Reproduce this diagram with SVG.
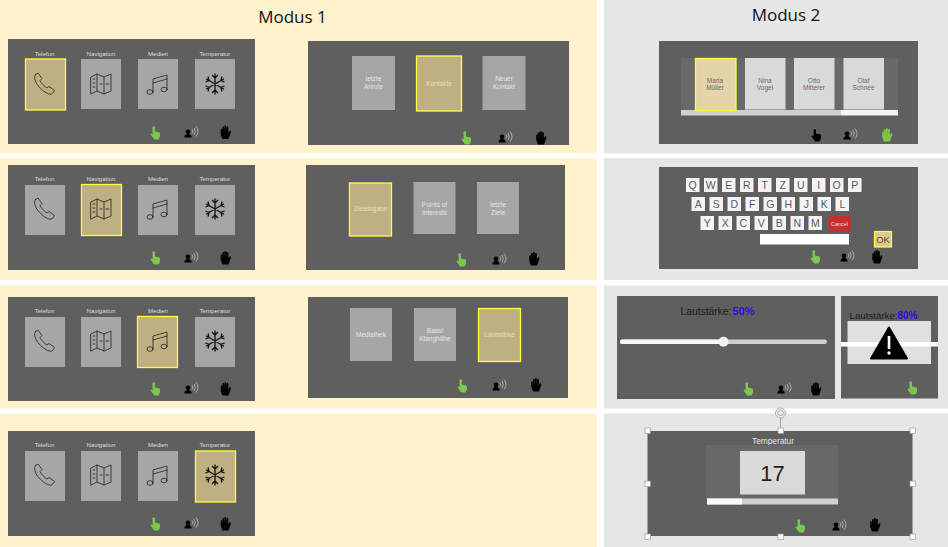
<svg xmlns="http://www.w3.org/2000/svg" width="948" height="547" viewBox="0 0 948 547">
<style>
text{font-family:"Liberation Sans",Arial,sans-serif;text-anchor:middle}
.panel{fill:#5f5f5f}
.tile{fill:#a6a6a6}
.sel{fill:#bfb084;stroke:#ffff3c;stroke-width:1.3}
.ltile{fill:#d9d9d9}
.lbl{font-size:6.100px;fill:#dedede}
.tl{font-size:6.500px;fill:#e6e6e6}
.sl{font-size:6.500px;fill:#e8dfb8}
.dl{font-size:6.500px;fill:#6a6a6a}
.key{fill:#f4f4f4}
.kt{font-size:10.500px;fill:#5a5a5a}
.title{font-family:"Open Sans","Noto Sans",sans-serif;font-size:17px;fill:#111}
.ic{fill:none;stroke:#222;stroke-width:.8;stroke-linejoin:round;stroke-linecap:round}
.handle{fill:#fff;stroke:#9a9a9a;stroke-width:.7}
.gr{fill:#7cc84c}
.bk{fill:#000}
</style>
<defs>
<symbol id="phone" overflow="visible"><path class="ic" d="M-9-9.500-6.500-11-2.500-5.500-4.500-3.500C-3-.5 0 2.500 2.500 4L4.500 2.500 10 6.500 8 9.500C6.500 11 3 10-1 7-5 4-8.500 0-9.500-4-10-6.500-10-8-9-9.500Z"/></symbol>
<symbol id="map" overflow="visible"><path class="ic" d="M-10-7-4-10 3-7 10-10V7L3 10-4 7-10 10ZM-4-10V7M3-7V10M-8-5H-6M-8-1H-6M-8 3H-6M-1 0H1M5 0H8"/></symbol>
<symbol id="music" overflow="visible"><path class="ic" d="M-5 8V-5L9-9V5M-5-1 9-5"/><ellipse class="ic" cx="-8" cy="8" rx="3" ry="2.300"/><ellipse class="ic" cx="6" cy="5.500" rx="3" ry="2.300"/></symbol>
<symbol id="snow" overflow="visible"><path d="M0-10.500V10.500M-9-5.200 9 5.200M-9 5.200 9-5.200M-3-9 0-6 3-9M-3 9 0 6 3 9M-9.500-2-6-3.500-7-7.500M9.500-2 6-3.500 7-7.500M-9.500 2-6 3.500-7 7.500M9.500 2 6 3.500 7 7.500" fill="none" stroke="#111" stroke-width="1.300"/></symbol>
<symbol id="touch" overflow="visible"><circle cx="-1.200" cy="-5.500" r="1.500" fill="#8a8a8a"/><path d="M-2.400-5a1.200 1.200 0 0 1 2.400 0V-1.500L3.500-.8A1.600 1.600 0 0 1 5 1V3.500L3.500 6.500H-.8L-4.500 1.500-3.500.3-2.400 1.500Z"/></symbol>
<symbol id="voice" overflow="visible"><circle cx="-3" cy="-1.300" r="2.300"/><path d="M-6.500 4.500V3L-4.500 1H-1.500L.5 3V4.500Z"/><path d="M1-3.500A3 3 0 0 1 1 .5M3-5A6 6 0 0 1 3 2M5-6.500A8 8 0 0 1 5 3.500" fill="none" stroke="#ddd" stroke-width=".6"/></symbol>
<symbol id="hand" overflow="visible"><path d="M-4.800-3A.8.800 0 0 1-3.200-3V-.5H-3V-5A.9.900 0 0 1-1.200-5V-1H-1V-6A.9.900 0 0 1 .8-6V-1H1V-5A.9.900 0 0 1 2.800-5V.5L4-1.500A.9.900 0 0 1 5.400-.5L3 6.500H-3L-4.800 2Z"/></symbol>
<symbol id="warn" overflow="visible"><path d="M0-15.500 18 15.500H-18Z" fill="#000" stroke="#000" stroke-width="2" stroke-linejoin="round"/><rect x="-1.300" y="-7" width="2.600" height="13" fill="#fff"/><circle cx="0" cy="10" r="1.700" fill="#fff"/></symbol>
</defs>

<g id="backgrounds">
<rect width="948" height="547" fill="#fff"/>
<rect x="0" y="0" width="597" height="153.500" fill="#fff2cc"/>
<rect x="0" y="158" width="597" height="122" fill="#fff2cc"/>
<rect x="0" y="285.500" width="597" height="123" fill="#fff2cc"/>
<rect x="0" y="413.500" width="597" height="133.500" fill="#fff2cc"/>
<rect x="604" y="0" width="344" height="153.500" fill="#e7e6e6"/>
<rect x="604" y="158" width="344" height="122" fill="#e7e6e6"/>
<rect x="604" y="285.500" width="344" height="123" fill="#e7e6e6"/>
<rect x="604" y="413.500" width="344" height="133.500" fill="#e7e6e6"/>
<text class="title" x="292.500" y="23">Modus 1</text>
<text class="title" x="786" y="21">Modus 2</text>
</g>

<g id="m1-main-telefon">
<rect class="panel" x="8" y="39" width="247" height="105"/>
<text class="lbl" x="44.500" y="55.500">Telefon</text><text class="lbl" x="101" y="55.500">Navigation</text><text class="lbl" x="158" y="55.500">Medien</text><text class="lbl" x="215" y="55.500">Temperatur</text>
<rect class="sel" x="25.500" y="59" width="40" height="51"/><rect class="tile" x="81" y="59" width="40" height="50"/><rect class="tile" x="138" y="59" width="40" height="50"/><rect class="tile" x="195" y="59" width="40" height="50"/>
<use href="#phone" x="44.500" y="84"/><use href="#map" x="101" y="84"/><use href="#music" x="158" y="84"/><use href="#snow" x="215" y="84"/>
<use href="#touch" x="155" y="133" class="gr"/><use href="#voice" x="191" y="133" class="bk"/><use href="#hand" x="225.500" y="132.500" class="bk"/>
</g>
<g id="m1-main-navigation">
<rect class="panel" x="8" y="165" width="247" height="105"/>
<text class="lbl" x="44.500" y="181">Telefon</text><text class="lbl" x="101" y="181">Navigation</text><text class="lbl" x="158" y="181">Medien</text><text class="lbl" x="215" y="181">Temperatur</text>
<rect class="tile" x="25" y="185" width="40" height="50"/><rect class="sel" x="81.500" y="184.500" width="40" height="51"/><rect class="tile" x="138" y="185" width="40" height="50"/><rect class="tile" x="195" y="185" width="40" height="50"/>
<use href="#phone" x="44.500" y="209"/><use href="#map" x="101" y="209"/><use href="#music" x="158" y="209"/><use href="#snow" x="215" y="209"/>
<use href="#touch" x="155" y="258" class="gr"/><use href="#voice" x="191" y="258" class="bk"/><use href="#hand" x="225.500" y="258" class="bk"/>
</g>
<g id="m1-main-medien">
<rect class="panel" x="8" y="297" width="247" height="104"/>
<text class="lbl" x="44.500" y="313">Telefon</text><text class="lbl" x="101" y="313">Navigation</text><text class="lbl" x="158" y="313">Medien</text><text class="lbl" x="215" y="313">Temperatur</text>
<rect class="tile" x="25" y="317" width="40" height="50"/><rect class="tile" x="81" y="317" width="40" height="50"/><rect class="sel" x="137.500" y="316.500" width="40" height="51"/><rect class="tile" x="195" y="317" width="40" height="50"/>
<use href="#phone" x="44.500" y="341"/><use href="#map" x="101" y="341"/><use href="#music" x="158" y="341"/><use href="#snow" x="215" y="341"/>
<use href="#touch" x="155" y="389" class="gr"/><use href="#voice" x="191" y="389" class="bk"/><use href="#hand" x="225.500" y="389" class="bk"/>
</g>
<g id="m1-main-temperatur">
<rect class="panel" x="8" y="431" width="247" height="105"/>
<text class="lbl" x="44.500" y="447">Telefon</text><text class="lbl" x="101" y="447">Navigation</text><text class="lbl" x="158" y="447">Medien</text><text class="lbl" x="215" y="447">Temperatur</text>
<rect class="tile" x="25" y="451" width="40" height="50"/><rect class="tile" x="81" y="451" width="40" height="50"/><rect class="tile" x="138" y="451" width="40" height="50"/><rect class="sel" x="195.500" y="451" width="40" height="51"/>
<use href="#phone" x="44.500" y="475"/><use href="#map" x="101" y="475"/><use href="#music" x="158" y="475"/><use href="#snow" x="215" y="475"/>
<use href="#touch" x="155" y="524" class="gr"/><use href="#voice" x="191" y="524" class="bk"/><use href="#hand" x="225.500" y="524" class="bk"/>
</g>

<g id="m1-sub-telefon">
<rect class="panel" x="308" y="41" width="261" height="104"/>
<rect class="tile" x="352" y="56" width="43" height="54"/><rect class="sel" x="416.500" y="56" width="45" height="55"/><rect class="tile" x="482.500" y="56" width="43" height="54"/>
<text class="tl" x="373.500" y="81">letzte</text><text class="tl" x="373.500" y="89">Anrufe</text>
<text class="sl" x="439" y="85.500">Kontakte</text>
<text class="tl" x="504" y="81">Neuer</text><text class="tl" x="504" y="89">Kontakt</text>
<use href="#touch" x="466" y="138" class="gr"/><use href="#voice" x="505" y="138" class="bk"/><use href="#hand" x="541" y="138" class="bk"/>
</g>
<g id="m1-sub-navigation">
<rect class="panel" x="306" y="165" width="259" height="105"/>
<rect class="sel" x="349.500" y="183" width="42" height="53"/><rect class="tile" x="413.500" y="182" width="42" height="52"/><rect class="tile" x="477" y="182" width="42" height="52"/>
<text class="sl" x="370.500" y="211">Zieleingabe</text>
<text class="tl" x="434.500" y="207">Points of</text><text class="tl" x="434.500" y="214.500">Interests</text>
<text class="tl" x="498" y="207">letzte</text><text class="tl" x="498" y="214.500">Ziele</text>
<use href="#touch" x="461" y="260" class="gr"/><use href="#voice" x="499" y="260" class="bk"/><use href="#hand" x="534" y="259" class="bk"/>
</g>
<g id="m1-sub-medien">
<rect class="panel" x="308" y="297" width="260" height="101"/>
<rect class="tile" x="350" y="308" width="42" height="53"/><rect class="tile" x="414" y="308" width="42" height="53"/><rect class="sel" x="478.500" y="308.500" width="42" height="53"/>
<text class="tl" x="371" y="337">Mediathek</text>
<text class="tl" x="435" y="333">Bass/</text><text class="tl" x="435" y="341">Klanghöhe</text>
<text class="sl" x="499.500" y="337">Lautstärke</text>
<use href="#touch" x="462" y="386" class="gr"/><use href="#voice" x="499" y="386" class="bk"/><use href="#hand" x="536" y="385" class="bk"/>
</g>

<g id="m2-kontakte">
<rect class="panel" x="659" y="41" width="259" height="103"/>
<rect x="681" y="58" width="217" height="53" fill="#696969"/>
<rect x="681" y="110" width="160" height="5.500" fill="#cfcfcf"/><rect x="841" y="110" width="57" height="5.500" fill="#f4f4f4"/>
<rect x="695.500" y="58.500" width="40.500" height="52" fill="#e3d5a8" stroke="#ffff3c" stroke-width="1.300"/><rect class="ltile" x="745" y="58" width="40.500" height="51.500"/><rect class="ltile" x="794" y="58" width="40.500" height="51.500"/><rect class="ltile" x="843.500" y="58" width="40.500" height="51.500"/>
<text class="dl" x="715" y="83">Maria</text><text class="dl" x="715" y="90">Müller</text>
<text class="dl" x="765" y="83">Nina</text><text class="dl" x="765" y="90">Vogel</text>
<text class="dl" x="814" y="83">Otto</text><text class="dl" x="814" y="90">Mitterer</text>
<text class="dl" x="863.500" y="83">Olaf</text><text class="dl" x="863.500" y="90">Schnee</text>
<use href="#touch" x="816" y="135" class="bk"/><use href="#voice" x="850" y="135" class="bk"/><use href="#hand" x="887" y="135" class="gr"/>
</g>
<g id="m2-keyboard">
<rect class="panel" x="659" y="167" width="259" height="102"/>
<g id="keys">
<rect class="key" x="686" y="178" width="13.500" height="14"/><rect class="key" x="704" y="178" width="13.500" height="14"/><rect class="key" x="722" y="178" width="13.500" height="14"/><rect class="key" x="740" y="178" width="13.500" height="14"/><rect class="key" x="758" y="178" width="13.500" height="14"/><rect class="key" x="776" y="178" width="13.500" height="14"/><rect class="key" x="794" y="178" width="13.500" height="14"/><rect class="key" x="812" y="178" width="13.500" height="14"/><rect class="key" x="830" y="178" width="13.500" height="14"/><rect class="key" x="848" y="178" width="13.500" height="14"/>
<rect class="key" x="691.500" y="197" width="13.500" height="14"/><rect class="key" x="709.500" y="197" width="13.500" height="14"/><rect class="key" x="727.500" y="197" width="13.500" height="14"/><rect class="key" x="745.500" y="197" width="13.500" height="14"/><rect class="key" x="763.500" y="197" width="13.500" height="14"/><rect class="key" x="781.500" y="197" width="13.500" height="14"/><rect class="key" x="799.500" y="197" width="13.500" height="14"/><rect class="key" x="817.500" y="197" width="13.500" height="14"/><rect class="key" x="835.500" y="197" width="13.500" height="14"/>
<rect class="key" x="700.500" y="216" width="13.500" height="14"/><rect class="key" x="718.500" y="216" width="13.500" height="14"/><rect class="key" x="736.500" y="216" width="13.500" height="14"/><rect class="key" x="754.500" y="216" width="13.500" height="14"/><rect class="key" x="772.500" y="216" width="13.500" height="14"/><rect class="key" x="790.500" y="216" width="13.500" height="14"/><rect class="key" x="808.500" y="216" width="13.500" height="14"/>
</g>
<text class="kt" x="692.700" y="189">Q</text><text class="kt" x="710.700" y="189">W</text><text class="kt" x="728.700" y="189">E</text><text class="kt" x="746.700" y="189">R</text><text class="kt" x="764.700" y="189">T</text><text class="kt" x="782.700" y="189">Z</text><text class="kt" x="800.700" y="189">U</text><text class="kt" x="818.700" y="189">I</text><text class="kt" x="836.700" y="189">O</text><text class="kt" x="854.700" y="189">P</text>
<text class="kt" x="698.300" y="208">A</text><text class="kt" x="716.300" y="208">S</text><text class="kt" x="734.300" y="208">D</text><text class="kt" x="752.300" y="208">F</text><text class="kt" x="770.300" y="208">G</text><text class="kt" x="788.300" y="208">H</text><text class="kt" x="806.300" y="208">J</text><text class="kt" x="824.300" y="208">K</text><text class="kt" x="842.300" y="208">L</text>
<text class="kt" x="707.300" y="227">Y</text><text class="kt" x="725.300" y="227">X</text><text class="kt" x="743.300" y="227">C</text><text class="kt" x="761.300" y="227">V</text><text class="kt" x="779.300" y="227">B</text><text class="kt" x="797.300" y="227">N</text><text class="kt" x="815.300" y="227">M</text>
<rect x="828.500" y="216" width="22" height="15.500" rx="1.500" fill="#c5302f"/><text x="839.500" y="225.500" style="font-size:5.500px;fill:#f3dcdc">Cancel</text>
<rect x="760" y="234" width="89" height="10.500" fill="#fff"/>
<rect x="874.500" y="231.500" width="17" height="15.500" fill="#dcc98e" stroke="#ffff3c" stroke-width="1.200"/><text x="883" y="243" style="font-size:9.500px;fill:#5a4a2a">OK</text>
<use href="#touch" x="815" y="257" class="gr"/><use href="#voice" x="847" y="257" class="bk"/><use href="#hand" x="877" y="257" class="bk"/>
</g>
<g id="m2-volume-50">
<rect class="panel" x="617" y="296" width="218" height="103"/>
<text x="706" y="314.500" style="font-size:10.300px;fill:#1c1c1c">Lautstärke:</text>
<text x="743.500" y="314.500" style="font-size:11px;font-weight:bold;fill:#2a10d8">50%</text>
<rect x="620" y="339.500" width="207" height="4.500" rx="2.200" fill="#cfcfcf"/><rect x="620" y="339.500" width="104" height="4.500" rx="2.200" fill="#f7f7f7"/>
<circle cx="723.500" cy="341.800" r="5" fill="#f2f2f2"/>
<use href="#touch" x="748" y="389" class="gr"/><use href="#voice" x="784" y="389" class="bk"/><use href="#hand" x="816" y="389" class="bk"/>
</g>
<g id="m2-volume-80">
<rect class="panel" x="841" y="296" width="97" height="102.500"/>
<text x="873.500" y="318.500" style="font-size:9.700px;fill:#1c1c1c">Lautstärke:</text>
<text x="907.500" y="318.500" style="font-size:10px;font-weight:bold;fill:#2a10d8">80%</text>
<rect x="847.500" y="321" width="83.500" height="43" fill="#e0e0e0"/>
<rect x="841" y="342" width="97" height="4.500" fill="#fff"/>
<use href="#warn" x="889" y="343"/>
<use href="#touch" x="912" y="388" class="gr"/>
</g>
<g id="m2-temperatur">
<rect class="panel" x="647.500" y="431" width="265" height="105"/>
<text x="773" y="443.500" style="font-size:8.300px;fill:#e6e6e6">Temperatur</text>
<rect x="706" y="445" width="132" height="54" fill="#686868"/>
<rect x="740" y="451" width="65" height="43.500" fill="#d9d9d9"/>
<text x="772.500" y="481" style="font-size:22px;fill:#222">17</text>
<rect x="707" y="498.500" width="131" height="6" fill="#cfcfcf"/><rect x="707" y="498.500" width="35" height="6" fill="#f7f7f7"/>
<use href="#touch" x="800" y="526" class="gr"/><use href="#voice" x="839" y="526" class="bk"/><use href="#hand" x="875" y="525" class="bk"/>
<g id="selection-handles">
<path d="M780.500 418V431" stroke="#888" stroke-width=".7" fill="none"/>
<circle cx="780.500" cy="413" r="5" fill="#eee" stroke="#999" stroke-width=".8"/><circle cx="780.500" cy="413" r="2.800" fill="none" stroke="#999" stroke-width=".7"/>
<rect class="handle" x="645" y="428" width="5.500" height="5.500"/><rect class="handle" x="778" y="428" width="5.500" height="5.500"/><rect class="handle" x="910" y="428" width="5.500" height="5.500"/>
<rect class="handle" x="645" y="481" width="5.500" height="5.500"/><rect class="handle" x="910" y="481" width="5.500" height="5.500"/>
<rect class="handle" x="645" y="534" width="5.500" height="5.500"/><rect class="handle" x="778" y="534" width="5.500" height="5.500"/><rect class="handle" x="910" y="534" width="5.500" height="5.500"/>
</g>
</g>
<g id="connectors"/>
</svg>
